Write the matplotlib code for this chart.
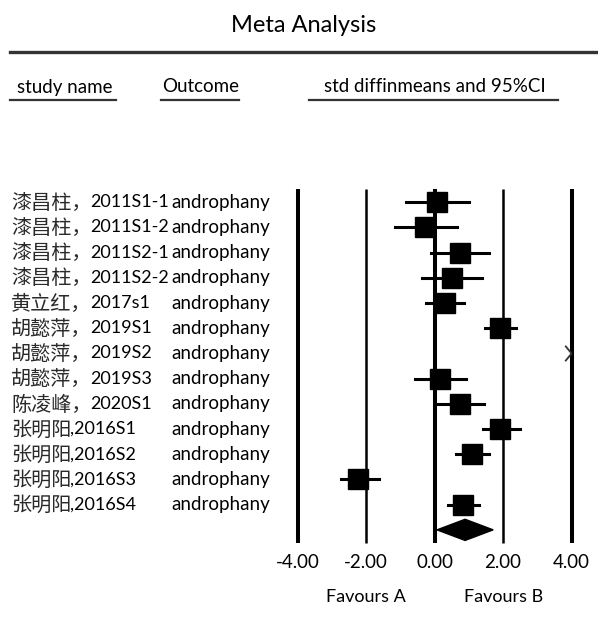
import matplotlib
matplotlib.use('Agg')
import matplotlib.pyplot as plt
from matplotlib import transforms
from matplotlib.lines import Line2D
from matplotlib.patches import Polygon

plt.rcParams['font.family'] = ['Lato', 'Noto Sans CJK SC', 'DejaVu Sans']

# study rows
study_names = ['漆昌柱，2011S1-1', '漆昌柱，2011S1-2', '漆昌柱，2011S2-1', '漆昌柱，2011S2-2',
               '黄立红，2017s1', '胡懿萍，2019S1', '胡懿萍，2019S2', '胡懿萍，2019S3',
               '陈凌峰，2020S1', '张明阳,2016S1', '张明阳,2016S2', '张明阳,2016S3',
               '张明阳,2016S4']
outcomes = ['androphany'] * 13
effect = [0.07, -0.27, 0.75, 0.51, 0.30, 1.92, 4.60, 0.16, 0.75, 1.92, 1.09, -2.23, 0.84]
ci_low = [-0.83, -1.15, -0.11, -0.37, -0.24, 1.47, 4.20, -0.57, 0.06, 1.40, 0.62, -2.74, 0.40]
ci_high = [1.00, 0.65, 1.59, 1.38, 0.85, 2.38, 5.00, 0.91, 1.45, 2.48, 1.59, -1.63, 1.31]

# pooled estimate
pooled = 0.89
pooled_low = 0.07
pooled_high = 1.71

ticks = [-4, -2, 0, 2, 4]
tick_labels = ['-4.00', '-2.00', '0.00', '2.00', '4.00']

W, H = 598, 628
fig = plt.figure(figsize=(W / 100, H / 100), dpi=100)


def fx(px):
    return px / W


def fy(py):
    return 1 - py / H


# forest axes, placed in pixels
x_lo, x_hi = -4.2, 4.2
y_top, y_bot = 0.3, 14.7
ax_left, ax_right = 290.75, 578.45
ax_top, ax_bottom = 184.66, 547.5
ax = fig.add_axes([fx(ax_left), fy(ax_bottom), (ax_right - ax_left) / W, (ax_bottom - ax_top) / H])
ax.set_xlim(x_lo, x_hi)
ax.set_ylim(y_bot, y_top)
for s in ax.spines.values():
    s.set_visible(False)
ax.set_yticks([])
ax.set_xticks(ticks)
ax.set_xticklabels(tick_labels, fontsize=13.5)
ax.tick_params(axis='x', length=0, pad=5)
ax.patch.set_alpha(0)

# reference lines
for t in ticks:
    lw = 1.8 if abs(t) == 2 else 2.9
    ax.plot([t, t], [0.47, 14.52], color='black', lw=lw, solid_capstyle='butt', zorder=1)

rows = list(range(1, len(study_names) + 1))
for r, e, lo, hi in zip(rows, effect, ci_low, ci_high):
    if e > ticks[-1]:
        # off scale: arrow at right edge
        ax.plot([4 - 0.17, 4, 4 - 0.17], [r - 0.28, r, r + 0.28], color='#333333', lw=1.3, zorder=3)
        continue
    ax.plot([lo, hi], [r, r], color='black', lw=2.2, zorder=2)
    ax.plot([e], [r], marker='s', color='black', markersize=15, zorder=3)

d = 0.42
yd = len(study_names) + 1
ax.add_patch(Polygon([[pooled_low, yd], [pooled, yd - d], [pooled_high, yd], [pooled, yd + d]],
                     closed=True, color='black', zorder=3))

# text columns: chinese part and the ascii rest drawn separately
tr = transforms.blended_transform_factory(fig.transFigure, ax.transData)
cjk_size = 14.5
for r, name, oc in zip(rows, study_names, outcomes):
    n = 0
    while n < len(name) and ord(name[n]) > 127:
        n += 1
    ax.text(fx(11), r, name[:n], transform=tr, fontsize=cjk_size, va='center', ha='left', color='#2a2a2a')
    x_rest = 11 + n * cjk_size * 100 / 72 - 1
    ax.text(fx(x_rest), r, name[n:], transform=tr, fontsize=13, va='center', ha='left', color='black')
    ax.text(fx(171), r, oc, transform=tr, fontsize=13.5, va='center', ha='left', color='black')

# favours labels
tr2 = transforms.blended_transform_factory(ax.transData, fig.transFigure)
ax.text(-2, fy(597), 'Favours A', transform=tr2, fontsize=13, ha='center', va='center')
ax.text(2, fy(597), 'Favours B', transform=tr2, fontsize=13, ha='center', va='center')

# title and header
fig.text(fx(304), fy(26), 'Meta Analysis', fontsize=17, ha='center', va='center')
fig.add_artist(Line2D([fx(10), fx(598)], [fy(52), fy(52)], color='#333333', lw=2.4))
headers = [('study name', 17, 10, 116), ('Outcome', 162, 161, 239), ('std diffinmeans and 95%CI', 324, 309, 558)]
for txt, tx, l0, l1 in headers:
    fig.text(fx(tx), fy(87), txt, fontsize=13.5, ha='left', va='center')
    fig.add_artist(Line2D([fx(l0), fx(l1)], [fy(99.5), fy(99.5)], color='#333333', lw=1.6))

fig.savefig('out.png', dpi=100)
